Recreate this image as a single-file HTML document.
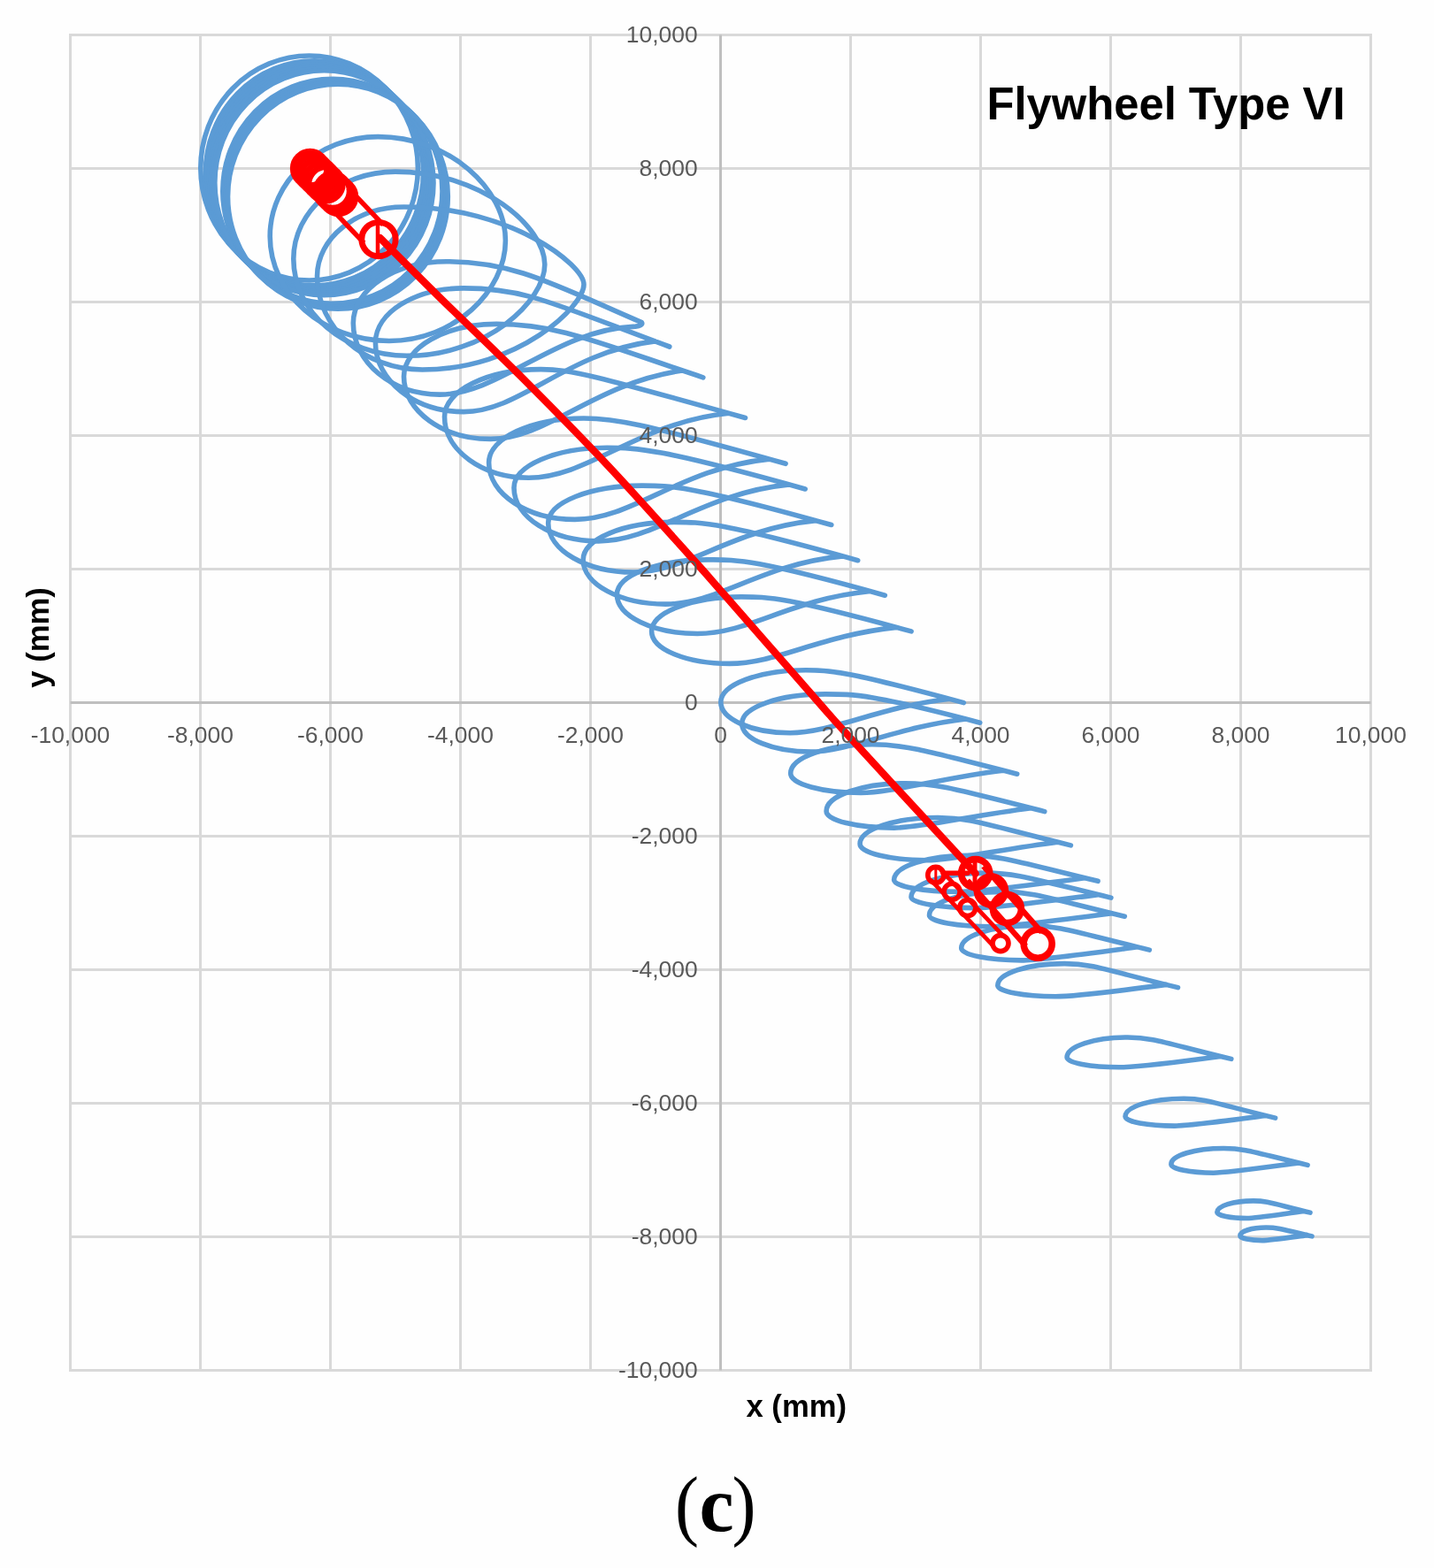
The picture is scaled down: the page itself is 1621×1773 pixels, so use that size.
<!DOCTYPE html>
<html lang="en">
<head>
<meta charset="utf-8">
<title>Flywheel Type VI</title>
<style>
html,body{margin:0;padding:0;background:#fefefe;}
body{width:1621px;height:1773px;overflow:hidden;}
svg{display:block;}
text{font-family:"Liberation Sans",sans-serif;}
.tick text{font-size:25.5px;fill:#595959;}
.ttl{font-weight:bold;fill:#000;}
.cap{font-family:"Liberation Serif",serif;fill:#000;}
</style>
</head>
<body>
<svg width="1621" height="1773" viewBox="0 0 1621 1773">
<rect width="1621" height="1773" fill="#fefefe"/>
<g fill="none" stroke="#d9d9d9" stroke-width="3">
<path d="M79.5 38 V1551"/>
<path d="M226.5 38 V1551"/>
<path d="M373.5 38 V1551"/>
<path d="M520.5 38 V1551"/>
<path d="M667.5 38 V1551"/>
<path d="M961.5 38 V1551"/>
<path d="M1108.5 38 V1551"/>
<path d="M1255.5 38 V1551"/>
<path d="M1402.5 38 V1551"/>
<path d="M1549.5 38 V1551"/>
<path d="M78 39.5 H1551"/>
<path d="M78 190.5 H1551"/>
<path d="M78 341.5 H1551"/>
<path d="M78 492.5 H1551"/>
<path d="M78 643.5 H1551"/>
<path d="M78 945.5 H1551"/>
<path d="M78 1096.5 H1551"/>
<path d="M78 1247.5 H1551"/>
<path d="M78 1398.5 H1551"/>
<path d="M78 1549.5 H1551"/>
</g>
<g fill="none" stroke="#bfbfbf" stroke-width="3">
<path d="M814.5 39.5 V1549.5"/>
<path d="M79.5 794.5 H1549.5"/>
</g>
<g fill="none" stroke="#5b9bd5" stroke-width="5.6" stroke-linecap="round" stroke-linejoin="round">
<ellipse cx="349.6" cy="190" rx="122.8" ry="127"/>
<ellipse cx="355.4" cy="195.8" rx="123.1" ry="127"/>
<ellipse cx="357.6" cy="198" rx="123.2" ry="127"/>
<ellipse cx="359.8" cy="200.2" rx="123.3" ry="127"/>
<ellipse cx="362" cy="202.4" rx="123.4" ry="127"/>
<ellipse cx="364.2" cy="204.6" rx="123.5" ry="127"/>
<ellipse cx="366.4" cy="206.8" rx="123.6" ry="127"/>
<ellipse cx="375.9" cy="216.3" rx="124.1" ry="127"/>
<ellipse cx="377.9" cy="218.3" rx="124.2" ry="127"/>
<ellipse cx="379.9" cy="220.3" rx="124.3" ry="127"/>
<ellipse cx="381.9" cy="222.3" rx="124.4" ry="127"/>
<path d="M571.4 272C571.4 213.3 508 154.6 427.2 154.6C359.8 154.6 305.2 205 305.2 267.2C305.2 332.5 365.5 385.5 440 385.5C513.6 385.5 571.4 328.8 571.4 272Z"/>
<path d="M615.8 299C615.8 257 544.9 194.1 446.9 194.1C383.3 194.1 331.8 238.3 331.8 292.8C331.8 353.3 389.2 402.3 460 402.3C550.4 402.3 615.8 340.3 615.8 299Z"/>
<path d="M660 321.8C660 299.9 578.7 234 456.8 234C402.5 234 358.5 269.2 358.5 312.6C358.5 370.8 411.7 418 477.4 418C587 418 660 345.9 660 321.8Z"/>
<path d="M725.4 364.6C627.6 322.5 582.1 295.7 505 295.7C446.6 295.7 399.3 326.9 399.3 365.3C399.3 409.9 443 446.1 497 446.1C565.5 446.1 627.6 372.6 718.4 369.1C723.4 368.6 726.9 367.1 725.4 364.6Z"/>
<path d="M756.8 392C623.8 342.8 593.9 325.9 524.1 325.9C469 325.9 424.4 353.5 424.4 387.5C424.4 430.6 469 465.6 524.1 465.6C588.9 465.6 640.5 397.8 740.2 385.9"/>
<path d="M794.8 426.8C676.4 387.7 631.4 366.4 561.4 366.4C503.5 366.4 456.5 393 456.5 425.8C456.5 464.8 500.4 496.4 554.6 496.4C619.6 496.4 669.6 434.2 771.1 419"/>
<path d="M842.5 472.5C672.5 424.9 646 417.6 611.3 417.6C551.2 417.6 502.5 441.6 502.5 471.2C502.5 509.3 545.1 540.2 597.7 540.2C665.5 540.2 721.8 477.5 823.8 467.3"/>
<path d="M888.1 524.3C720.4 477.3 694.2 473 660 473C600.7 473 552.6 495.4 552.6 523.1C552.6 558.6 596.2 587.4 649.9 587.4C715.8 587.4 769 529.2 869.6 519.1"/>
<path d="M910.2 553C745.6 506.9 719.9 506.3 686.3 506.3C628.2 506.3 581 526.5 581 551.4C581 584.8 623.7 611.9 676.5 611.9C741.2 611.9 793.3 557.8 892.1 547.9"/>
<path d="M939.8 593.5C779.8 548.7 757.5 549.1 725.3 549.1C667 549.1 619.7 568 619.7 591.4C619.7 622.1 662.7 647 715.7 647C777.7 647 826.2 598.2 922.2 588.6"/>
<path d="M969.7 633.7C814.5 590.2 792.9 590.4 761.7 590.4C705.1 590.4 659.2 609.4 659.2 632.9C659.2 660.6 700.9 683.1 752.4 683.1C812.4 683.1 859.5 638.2 952.6 628.9"/>
<path d="M1000.3 673.2C848.8 630.8 830.4 632.9 800.4 632.9C743.5 632.9 697.4 650.5 697.4 672.3C697.4 696.7 738.1 716.5 788.3 716.5C846.9 716.5 892.8 677.6 983.6 668.5"/>
<path d="M1030.1 713.9C887.5 674.8 869.4 674.9 837.9 674.9C781.9 674.9 736.6 692.4 736.6 713.9C736.6 734.1 776 750.4 824.6 750.4C877.5 750.4 927.6 718.4 1013.5 709.4"/>
<path d="M1089.4 794.6C959.9 759.8 942.8 757.8 910.9 757.8C857.8 757.8 814.8 774 814.8 794.1C814.8 813.3 849.8 828.8 893.1 828.8C940 828.8 995.1 798.9 1073.5 790.3"/>
<path d="M1107.7 817.2C984.7 784.9 966.6 784.9 932.9 784.9C880.9 784.9 838.7 799.6 838.7 817.9C838.7 835.7 873.6 850.1 916.7 850.1C958.7 850.1 1016.8 821.6 1091.8 813"/>
<path d="M1149.7 875.2C1036.3 846 1019.8 841.8 985.9 841.8C935 841.8 893.7 856.4 893.7 874.5C893.7 886.6 929.2 896.4 973.1 896.4C1008.5 896.4 1064.7 879.5 1134.2 871.2"/>
<path d="M1180.8 917.6C1075.1 891 1057.9 885.8 1022.9 885.8C973.9 885.8 934.1 899.9 934.1 917.2C934.1 927.7 968.3 936.1 1010.6 936.1C1041.6 936.1 1100.3 921.8 1165.5 913.7"/>
<path d="M1210.4 955.9C1111.7 931.6 1095.7 924.5 1060.3 924.5C1011.6 924.5 972.1 937.8 972.1 954.2C972.1 964.4 1006.2 972.7 1048.4 972.7C1074.8 972.7 1134 960 1195.3 952.2"/>
<path d="M1241.1 996.3C1148.9 974.2 1132.2 967.4 1095.9 967.4C1048.8 967.4 1010.6 979.7 1010.6 994.9C1010.6 1002.3 1043.6 1008.3 1084.4 1008.3C1107 1008.3 1168.5 1000.4 1226.1 992.7"/>
<path d="M1255.9 1015.1C1165.5 993.4 1149.2 987.1 1113.6 987.1C1067.4 987.1 1030 999.3 1030 1014.3C1030 1021.1 1062.4 1026.6 1102.3 1026.6C1124.5 1026.6 1184.7 1019.1 1241.2 1011.6"/>
<path d="M1271.3 1036.2C1183 1015 1167 1008.4 1132.2 1008.4C1087.1 1008.4 1050.5 1020.3 1050.5 1035C1050.5 1042 1082.1 1047.7 1121.2 1047.7C1142.9 1047.7 1201.7 1040.1 1256.9 1032.8"/>
<path d="M1299.3 1074.1C1214.3 1053.7 1198.8 1046.8 1165.4 1046.8C1121.9 1046.8 1086.7 1058.1 1086.7 1072.1C1086.7 1079.7 1117.2 1085.9 1154.7 1085.9C1175.7 1085.9 1232.3 1077.9 1285.5 1070.8"/>
<path d="M1331.5 1116.6C1250 1097 1235.3 1089.6 1203.2 1089.6C1161.5 1089.6 1127.8 1100.6 1127.8 1114.2C1127.8 1121.1 1157 1126.8 1193 1126.8C1213 1126.8 1267.3 1120.2 1318.3 1113.4"/>
<path d="M1391.8 1197.4C1317.5 1179.6 1304.1 1173 1274.8 1173C1236.9 1173 1206.1 1183.1 1206.1 1195.6C1206.1 1201.8 1232.5 1206.8 1265 1206.8C1283.3 1206.8 1333.3 1200.7 1379.7 1194.5"/>
<path d="M1441.6 1264.1C1373.8 1247.8 1364 1242.2 1338.1 1242.2C1301.6 1242.2 1272 1251.3 1272 1262.5C1272 1268.4 1297.1 1273.1 1328 1273.1C1344.4 1273.1 1388.2 1267.1 1430.6 1261.5"/>
<path d="M1478.1 1317.4C1416.4 1302.6 1407 1298.5 1383.3 1298.5C1350.5 1298.5 1323.9 1306.5 1323.9 1316.4C1323.9 1321.8 1345.3 1326.2 1371.7 1326.2C1387.1 1326.2 1429.5 1320.1 1468.1 1315"/>
<path d="M1481 1371.1C1438.9 1361 1432.9 1357.9 1416.8 1357.9C1394.2 1357.9 1375.8 1363.6 1375.8 1370.7C1375.8 1374.5 1390.9 1377.5 1409.5 1377.5C1419.8 1377.5 1447.9 1373 1474.2 1369.5"/>
<path d="M1483 1397.9C1450.6 1390.1 1444.1 1388 1431.1 1388C1415 1388 1401.9 1392.2 1401.9 1397.4C1401.9 1400.2 1413.2 1402.6 1427 1402.6C1435.2 1402.6 1457.5 1399.3 1477.7 1396.6"/>
</g>
<g fill="none" stroke="#ff0000" stroke-linecap="round" stroke-linejoin="round">
<path d="M371.7 232.9 L411.3 274.7" stroke-width="5.5" stroke-linecap="butt"/>
<path d="M393.5 212.3 L433.1 254.1" stroke-width="5.5" stroke-linecap="butt"/>
<circle cx="350.5" cy="190.5" r="19.2" stroke-width="6.9"/>
<circle cx="354.9" cy="194.9" r="19.2" stroke-width="6.9"/>
<circle cx="359.3" cy="199.3" r="19.2" stroke-width="6.9"/>
<circle cx="363.7" cy="203.7" r="19.2" stroke-width="6.9"/>
<circle cx="368.1" cy="208.1" r="19.2" stroke-width="6.9"/>
<circle cx="376" cy="216" r="19.2" stroke-width="6.9"/>
<circle cx="379.3" cy="219.3" r="19.2" stroke-width="6.9"/>
<circle cx="382.6" cy="222.6" r="19.2" stroke-width="6.9"/>
<path d="M427 253.6 V287.6" stroke-width="4.5" stroke-linecap="butt"/>
<circle cx="428" cy="270.6" r="19.2" stroke-width="6.9"/>
<path d="M429.5 269C441.2 280.7 473 312.7 500 339.2C527 365.7 560 396.8 591.3 428.1C622.5 459.4 655.4 492.7 687.5 526.8C719.6 560.9 762 608.7 783.8 632.9C805.6 657.1 795.3 645.8 818.4 672C841.5 698.2 898.2 763.3 922.1 790.4C946 817.5 931.5 801.9 961.6 834.8C991.7 867.7 1079.2 962.3 1102.7 987.8" stroke-width="8.3"/>
<path d="M1093.7 995.5 L1159.6 1069.9" stroke-width="6.2" stroke-linecap="butt"/>
<path d="M1111.7 979.5 L1177.6 1054" stroke-width="6.2" stroke-linecap="butt"/>
<circle cx="1102.7" cy="987.5" r="16" stroke-width="7.6"/>
<circle cx="1120.4" cy="1007" r="16" stroke-width="7.6"/>
<circle cx="1138.4" cy="1027.5" r="16" stroke-width="7.6"/>
<circle cx="1173.2" cy="1067.2" r="16" stroke-width="7.6"/>
<path d="M1052 994.9 L1122.1 1068.8" stroke-width="4.8" stroke-linecap="butt"/>
<path d="M1063.6 983.9 L1133.7 1057.8" stroke-width="4.8" stroke-linecap="butt"/>
<circle cx="1057.8" cy="989.4" r="9" stroke-width="5.6"/>
<circle cx="1076.1" cy="1008.3" r="9" stroke-width="5.6"/>
<circle cx="1093.8" cy="1026.6" r="9" stroke-width="5.6"/>
<circle cx="1131" cy="1066.6" r="9" stroke-width="5.6"/>
<path d="M1066 987.3 H1094" stroke-width="5.5"/>
<path d="M1057.8 983 V996" stroke-width="3" stroke-linecap="butt"/>
<path d="M1102 975 V1001" stroke-width="5" stroke-linecap="butt"/>
</g>
<g class="tick">
<text x="79.5" y="839.9" text-anchor="middle" textLength="89.6" lengthAdjust="spacingAndGlyphs">-10,000</text>
<text x="226.5" y="839.9" text-anchor="middle" textLength="74.9" lengthAdjust="spacingAndGlyphs">-8,000</text>
<text x="373.5" y="839.9" text-anchor="middle" textLength="74.9" lengthAdjust="spacingAndGlyphs">-6,000</text>
<text x="520.5" y="839.9" text-anchor="middle" textLength="74.9" lengthAdjust="spacingAndGlyphs">-4,000</text>
<text x="667.5" y="839.9" text-anchor="middle" textLength="74.9" lengthAdjust="spacingAndGlyphs">-2,000</text>
<text x="814.5" y="839.9" text-anchor="middle" textLength="14.7" lengthAdjust="spacingAndGlyphs">0</text>
<text x="961.5" y="839.9" text-anchor="middle" textLength="66.1" lengthAdjust="spacingAndGlyphs">2,000</text>
<text x="1108.5" y="839.9" text-anchor="middle" textLength="66.1" lengthAdjust="spacingAndGlyphs">4,000</text>
<text x="1255.5" y="839.9" text-anchor="middle" textLength="66.1" lengthAdjust="spacingAndGlyphs">6,000</text>
<text x="1402.5" y="839.9" text-anchor="middle" textLength="66.1" lengthAdjust="spacingAndGlyphs">8,000</text>
<text x="1549.5" y="839.9" text-anchor="middle" textLength="80.8" lengthAdjust="spacingAndGlyphs">10,000</text>
<text x="788.6" y="47.7" text-anchor="end" textLength="80.8" lengthAdjust="spacingAndGlyphs">10,000</text>
<text x="788.6" y="198.7" text-anchor="end" textLength="66.1" lengthAdjust="spacingAndGlyphs">8,000</text>
<text x="788.6" y="349.7" text-anchor="end" textLength="66.1" lengthAdjust="spacingAndGlyphs">6,000</text>
<text x="788.6" y="500.7" text-anchor="end" textLength="66.1" lengthAdjust="spacingAndGlyphs">4,000</text>
<text x="788.6" y="651.7" text-anchor="end" textLength="66.1" lengthAdjust="spacingAndGlyphs">2,000</text>
<text x="788.6" y="802.7" text-anchor="end" textLength="14.7" lengthAdjust="spacingAndGlyphs">0</text>
<text x="788.6" y="953.7" text-anchor="end" textLength="74.9" lengthAdjust="spacingAndGlyphs">-2,000</text>
<text x="788.6" y="1104.7" text-anchor="end" textLength="74.9" lengthAdjust="spacingAndGlyphs">-4,000</text>
<text x="788.6" y="1255.7" text-anchor="end" textLength="74.9" lengthAdjust="spacingAndGlyphs">-6,000</text>
<text x="788.6" y="1406.7" text-anchor="end" textLength="74.9" lengthAdjust="spacingAndGlyphs">-8,000</text>
<text x="788.6" y="1557.7" text-anchor="end" textLength="89.6" lengthAdjust="spacingAndGlyphs">-10,000</text>
</g>
<text class="ttl" x="1115.5" y="135" font-size="52" textLength="405" lengthAdjust="spacingAndGlyphs">Flywheel Type VI</text>
<text class="ttl" x="843.5" y="1602" font-size="35.5" textLength="113.5" lengthAdjust="spacingAndGlyphs">x (mm)</text>
<text class="ttl" transform="translate(55 777.7) rotate(-90)" font-size="35.5" textLength="113.5" lengthAdjust="spacingAndGlyphs">y (mm)</text>
<text class="cap" y="1731" font-size="88"><tspan x="763" textLength="27" lengthAdjust="spacingAndGlyphs">(</tspan><tspan x="790.5" font-weight="bold">c</tspan><tspan x="827.5" textLength="27" lengthAdjust="spacingAndGlyphs">)</tspan></text>
</svg>
</body>
</html>
